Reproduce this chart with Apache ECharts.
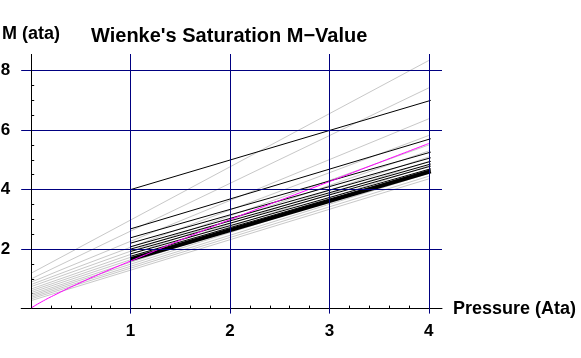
<!DOCTYPE html>
<html><head><meta charset="utf-8">
<script src="https://cdn.jsdelivr.net/npm/echarts@6/dist/echarts.min.js"></script>
<style>html,body{margin:0;padding:0;background:#fff}#c{width:581px;height:358px}</style>
</head><body><div id="c"></div>
<script>
const titleText = "Wienke's Saturation M\u2212Value";
const yAxisTitle = "M (ata)";
const xAxisTitle = "Pressure (Ata)";

const xLabelValues = [1, 2, 3, 4];
const yLabelValues = [2, 4, 6, 8];
const xGridValues = [1, 2, 3, 4];
const yGridValues = [2, 4, 6, 8];
const xMinorTicks = [0.2,0.4,0.6,0.8,1.2,1.4,1.6,1.8,2.2,2.4,2.6,2.8,3.2,3.4,3.6,3.8];
const yMinorTicks = [0.5,1,1.5,2.5,3,3.5,4.5,5,5.5,6.5,7,7.5];

const grayX = [0, 4];
const grayStart = [1.19, 1.00, 0.89, 0.81, 0.74, 0.66, 0.60, 0.54, 0.48, 0.43, 0.38, 0.33, 0.27];
const grayEnd   = [8.34, 7.42, 6.38, 5.82, 5.50, 5.30, 5.10, 4.95, 4.80, 4.68, 4.55, 4.45, 4.36];

const blackX = [1, 4.02];
const blackStart = [4.00, 2.68, 2.38, 2.20, 2.08, 2.00, 1.92, 1.84, 1.76];
const blackEnd   = [7.00, 5.71, 5.26, 5.07, 4.95, 4.86, 4.79, 4.70, 4.66];
const thickStart = 1.66;
const thickEnd = 4.61;

const magX = [0, 0.1, 0.25, 0.5, 0.75, 1, 1.5, 2, 3, 4];
const magY = [0.02, 0.22, 0.48, 0.88, 1.25, 1.6, 2.3, 2.99, 4.27, 5.55];

const NAVY = '#000080';
const GRAY = '#c8c8c8';
const FONT = "'Liberation Sans', Arial, sans-serif";

// layout: plot origin in pixels; the grid is extended 10px left / 5px down for the outward tick stubs
const ORIGIN_X = 31.2, ORIGIN_Y = 308.6, GRID_RIGHT = 139, GRID_TOP = 54;
const X_PX = 99.4, Y_PX = 29.75;
const X_MIN = -10 / X_PX, Y_MIN = -5 / Y_PX;
const X_MAX = (581 - GRID_RIGHT - ORIGIN_X) / X_PX;
const Y_MAX = (ORIGIN_Y - GRID_TOP) / Y_PX;

const gridLineData = [
  ...xGridValues.map(v => ({xAxis: v})),
  ...yGridValues.map(v => ({yAxis: v})),
  [{coord:[0, 0], lineStyle:{color:'#000'}}, {coord:[0, Y_MAX * 0.99999]}]
];

const series = [];
series.push({type:'line', xAxisIndex:0, yAxisIndex:0, data:[], z:1, silent:true, animation:false,
  markLine:{silent:true, animation:false, symbol:['none','none'], label:{show:false},
    emphasis:{disabled:true},
    lineStyle:{type:'solid', color:NAVY, width:1},
    data:gridLineData}});
grayStart.forEach((s, i) => {
  series.push({type:'line', xAxisIndex:0, yAxisIndex:0, data:[[grayX[0], s],[grayX[1], grayEnd[i]]],
    symbol:'none', lineStyle:{color:GRAY, width:1}, z:2, silent:true, animation:false});
});
blackStart.forEach((s, i) => {
  series.push({type:'line', xAxisIndex:0, yAxisIndex:0, data:[[blackX[0], s],[blackX[1], blackEnd[i]]],
    symbol:'none', lineStyle:{color:'#000', width:1}, z:3, silent:true, animation:false});
});
series.push({type:'line', xAxisIndex:0, yAxisIndex:0, data:[[blackX[0], thickStart],[blackX[1], thickEnd]],
  symbol:'none', lineStyle:{color:'#000', width:4}, z:3, silent:true, animation:false});
series.push({type:'line', xAxisIndex:0, yAxisIndex:0, data: magX.map((x,i)=>[x, magY[i]]), smooth:true,
  symbol:'none', lineStyle:{color:'#ff00ff', width:1}, z:4, silent:true, animation:false});

const labelStyle = {color:'#000', fontFamily:FONT, fontWeight:'bold', fontSize:17};

const chart = echarts.init(document.getElementById('c'), null, {renderer:'canvas'});
chart.setOption({
  animation:false,
  backgroundColor:'#fff',
  title:[
    {text:titleText, left:91, top:26, padding:0, textStyle:{fontFamily:FONT, fontWeight:'bold', fontSize:20, color:'#000'}},
    {text:yAxisTitle, left:2, top:25, padding:0, textStyle:{fontFamily:FONT, fontWeight:'bold', fontSize:18, color:'#000'}},
    {text:xAxisTitle, left:453, top:300, padding:0, textStyle:{fontFamily:FONT, fontWeight:'bold', fontSize:18, color:'#000'}}
  ],
  grid:{left:ORIGIN_X - 10, right:GRID_RIGHT, top:GRID_TOP, bottom:358 - ORIGIN_Y - 5, containLabel:false, outerBoundsMode:'none'},
  xAxis:{type:'value', min:X_MIN, max:X_MAX, position:'bottom',
     axisLine:{show:true, onZero:true, lineStyle:{color:'#000', width:1}},
     axisTick:{show:true, inside:true, length:3, customValues:xMinorTicks, lineStyle:{color:'#000'}},
     axisLabel:{customValues:xLabelValues, margin:9, ...labelStyle},
     splitLine:{show:false}, minorSplitLine:{show:false}},
  yAxis:{type:'value', min:Y_MIN, max:Y_MAX, position:'left',
     axisLine:{show:false, onZero:true},
     axisTick:{show:true, inside:true, length:3, customValues:yMinorTicks, lineStyle:{color:'#000'}},
     axisLabel:{customValues:yLabelValues, margin:11, ...labelStyle},
     splitLine:{show:false}, minorSplitLine:{show:false}},
  series: series
});
</script>
</body></html>
